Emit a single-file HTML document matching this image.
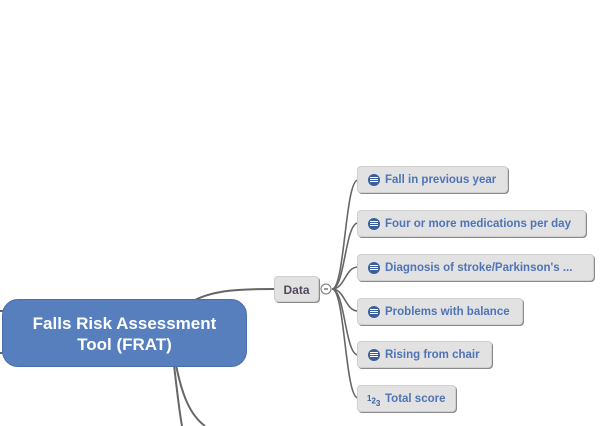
<!DOCTYPE html>
<html><head><style>
body{margin:0;width:608px;height:426px;background:#fff;position:relative;overflow:hidden;font-family:"Liberation Sans",sans-serif;}
.n{position:absolute;box-sizing:border-box;background:#e2e2e2;border-radius:4px;box-shadow:1px 1px 0 #8a8a8a;border:1px solid #cfcfcf;font-weight:bold;font-size:11.5px;color:#4f74b5;line-height:27px;white-space:nowrap;}
.n .ic{position:absolute;left:10px;top:7px;width:12px;height:12px;border-radius:50%;background:#3b5f9c;}
.n .ic:before{content:"";position:absolute;left:2px;right:2px;top:3px;height:1px;background:#fff;box-shadow:0 2px 0 #fff,0 4px 0 #fff;}
.n span{position:absolute;left:27px;}
</style></head><body>
<svg width="608" height="426" style="position:absolute;left:0;top:0" fill="none" stroke="#666" stroke-width="2">
<path d="M195,300 C215,290 240,289 274,289"/>
<path d="M174,365 C178,400 180,415 182,426"/>
<path d="M176,365 C182,395 190,415 205,426"/>
<path d="M0,311 L4,311"/><path d="M0,353 L4,353"/>
<g stroke-width="1.6">
<path d="M332,289 C345,289 345,180 358,180"/>
<path d="M332,289 C345,289 345,223 358,223"/>
<path d="M332,289 C345,289 345,267 358,267"/>
<path d="M332,289 C345,289 345,311 358,311"/>
<path d="M332,289 C345,289 345,355 358,355"/>
<path d="M332,289 C345,289 345,398 358,398"/>
</g>
<circle cx="326" cy="289" r="5" fill="#fff" stroke="#777" stroke-width="1"/>
<path d="M324,289 H328" stroke="#333" stroke-width="1"/>
</svg>
<div style="position:absolute;left:2px;top:299px;width:245px;height:68px;background:#577fbd;border-radius:16px;border:1px solid #4a6ea8;box-sizing:border-box;color:#fff;font-weight:bold;font-size:17px;text-align:center;line-height:21px;padding-top:13px;">Falls Risk Assessment<br>Tool (FRAT)</div>
<div class="n" style="left:274px;top:276px;width:45px;height:26px;color:#524a5c;text-align:center;font-size:12px;line-height:26px;">Data</div>
<div class="n" style="left:357px;top:166px;width:151px;height:27px;"><i class="ic"></i><span>Fall in previous year</span></div>
<div class="n" style="left:357px;top:210px;width:229px;height:27px;"><i class="ic"></i><span>Four or more medications per day</span></div>
<div class="n" style="left:357px;top:254px;width:237px;height:27px;"><i class="ic"></i><span>Diagnosis of stroke/Parkinson's ...</span></div>
<div class="n" style="left:357px;top:298px;width:166px;height:27px;"><i class="ic"></i><span>Problems with balance</span></div>
<div class="n" style="left:357px;top:341px;width:135px;height:27px;"><i class="ic"></i><span>Rising from chair</span></div>
<div class="n" style="left:357px;top:385px;width:99px;height:27px;"><b style="position:absolute;left:9px;top:-1px;font-size:8px;color:#3b5f9c;">1<sub style="font-size:8px">2</sub><sub style="font-size:8px;position:relative;top:2px">3</sub></b><span>Total score</span></div>
</body></html>
